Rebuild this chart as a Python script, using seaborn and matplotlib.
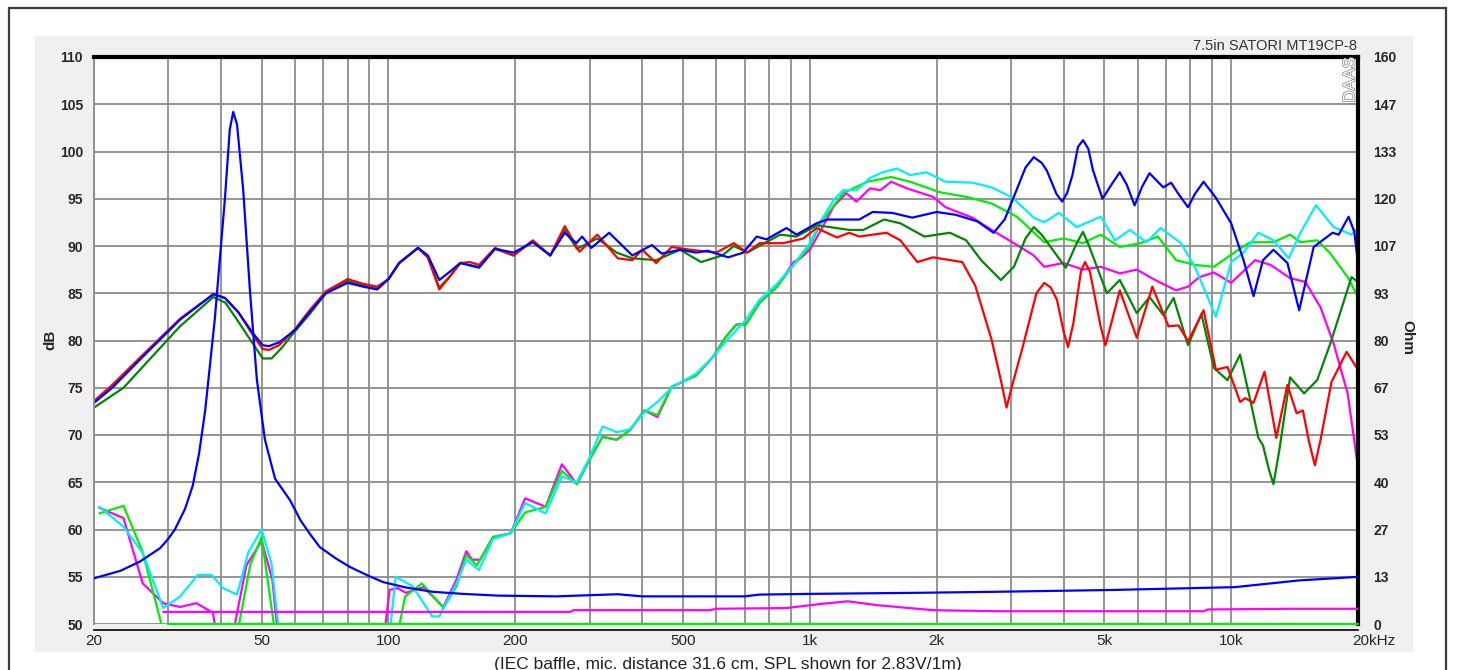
import numpy as np
import matplotlib
matplotlib.use("Agg")
import matplotlib.pyplot as plt
import matplotlib.patheffects as pe
import matplotlib.transforms as mtransforms
from matplotlib.patches import Rectangle
from matplotlib.ticker import LogLocator, NullFormatter
import seaborn as sns

sns.set_theme(style="white")
plt.rcParams["font.family"] = ["Liberation Sans", "DejaVu Sans"]

# ---- SPL curves (dB) ----
f_blue = [20, 22.1, 26, 32, 38.4, 40.9, 44, 47.6, 50.3, 52, 55, 60, 65, 71, 80, 87, 94, 100, 106,
          117.5, 124, 132, 140, 148, 164, 179, 198, 220, 242, 262, 279, 288, 303, 334, 379, 422,
          445, 492, 538, 572, 640, 695, 748, 789, 880, 930, 1037, 1100, 1200, 1310, 1410, 1570,
          1750, 2000, 2220, 2500, 2730, 2900, 3100, 3250, 3400, 3550, 3650, 3850, 3970, 4080, 4200,
          4330, 4450, 4580, 4700, 4950, 5200, 5440, 5650, 5900, 6150, 6400, 6900, 7200, 7500, 7900,
          8200, 8600, 9200, 10000, 10700, 11300, 11900, 12600, 13600, 14500, 15700, 17400, 18000,
          19000, 19600, 20000]
db_blue = [73.4, 75.0, 78.2, 82.2, 84.9, 84.5, 83.0, 80.8, 79.5, 79.4, 79.8, 81.1, 83.0, 85.0, 86.1,
           85.7, 85.4, 86.5, 88.2, 89.8, 89.0, 86.4, 87.3, 88.2, 87.7, 89.7, 89.3, 90.4, 89.0, 91.4,
           90.3, 91.0, 89.8, 91.4, 89.0, 90.1, 89.2, 89.6, 89.3, 89.5, 88.8, 89.3, 91.0, 90.7, 91.9,
           91.2, 92.4, 92.8, 92.8, 92.8, 93.6, 93.5, 93.0, 93.6, 93.3, 92.6, 91.4, 92.8, 96.0, 98.3,
           99.4, 98.8, 98.0, 95.5, 94.7, 95.6, 97.5, 100.5, 101.2, 100.3, 98.0, 95.0, 96.5, 97.8,
           96.5, 94.3, 96.3, 97.7, 96.2, 96.7, 95.5, 94.1, 95.5, 96.8, 95.1, 92.4, 88.5, 84.7, 88.5,
           89.6, 88.2, 83.2, 89.9, 91.4, 91.2, 93.1, 91.5, 88.2]

f_red = [20, 22.1, 26, 32, 38.4, 40.9, 44, 47.6, 50.3, 52, 55, 60, 65, 71, 80, 87, 94, 100, 106,
         117.5, 124, 132, 140, 148, 156, 164, 179, 198, 220, 242, 262, 284, 313, 350, 379, 400, 432,
         470, 520, 600, 660, 710, 760, 865, 965, 1037, 1160, 1240, 1310, 1520, 1640, 1800, 1960,
         2300, 2470, 2700, 2850, 2930, 3020, 3200, 3450, 3600, 3730, 3860, 4000, 4100, 4220, 4400,
         4500, 4620, 4900, 5030, 5150, 5440, 5970, 6500, 7100, 7500, 7900, 8600, 9200, 9800, 10500,
         10800, 11300, 12000, 12800, 13600, 14300, 14800, 15300, 15800, 16300, 17300, 18800, 20000]
db_red = [73.6, 75.3, 78.4, 82.3, 84.9, 84.5, 83.0, 80.6, 79.1, 79.0, 79.5, 81.2, 83.2, 85.2, 86.5,
          86.0, 85.7, 86.5, 88.2, 89.8, 88.8, 85.4, 86.8, 88.2, 88.3, 88.0, 89.8, 89.0, 90.6, 89.0,
          92.1, 89.4, 91.2, 88.7, 88.5, 89.6, 88.2, 89.9, 89.6, 89.3, 90.3, 89.3, 90.3, 90.3, 90.8,
          91.9, 90.9, 91.4, 91.0, 91.4, 90.6, 88.3, 88.8, 88.3, 85.8, 80.1, 75.5, 72.9, 75.2, 79.3,
          85.0, 86.1, 85.6, 84.3, 81.0, 79.3, 81.8, 87.3, 88.3, 87.3, 81.5, 79.5, 81.2, 85.3, 80.3,
          85.7, 81.5, 81.6, 79.9, 83.2, 76.9, 77.2, 73.5, 73.9, 73.4, 76.7, 69.7, 75.3, 72.3, 72.6,
          69.3, 66.8, 69.5, 75.6, 78.8, 76.9]

f_green = [20, 23.5, 32, 38.4, 41, 44, 47.6, 50.3, 52.8, 56, 59, 65, 71, 80, 87, 94, 100, 106, 117.5,
           124, 132, 140, 148, 164, 179, 198, 220, 242, 262, 280, 313, 348, 379, 432, 492, 552, 620,
           660, 710, 850, 930, 1040, 1240, 1340, 1500, 1640, 1870, 2150, 2350, 2550, 2840, 3050,
           3250, 3400, 3550, 4050, 4300, 4450, 4600, 5070, 5440, 5970, 6400, 6900, 7300, 7900, 8500,
           9100, 9800, 10500, 11100, 11600, 11900, 12300, 12600, 13000, 13800, 14900, 16000, 17200,
           19300, 20000]
db_green = [72.9, 75.0, 81.5, 84.6, 84.0, 82.0, 79.7, 78.1, 78.1, 79.3, 80.6, 82.8, 85.0, 86.3, 85.8,
            85.5, 86.5, 88.2, 89.8, 88.8, 85.6, 86.8, 88.2, 87.8, 89.7, 89.0, 90.5, 89.0, 91.7, 89.7,
            90.8, 89.3, 88.7, 88.5, 89.6, 88.3, 89.0, 90.0, 89.3, 91.2, 91.0, 92.2, 91.7, 91.7, 92.8,
            92.4, 91.0, 91.4, 90.6, 88.5, 86.4, 87.8, 90.8, 92.0, 91.2, 87.7, 90.3, 91.5, 90.0, 85.0,
            86.4, 82.9, 84.6, 82.7, 84.5, 79.5, 82.8, 77.1, 75.8, 78.5, 73.7, 69.7, 68.9, 66.3, 64.8,
            68.3, 76.1, 74.4, 75.8, 79.7, 86.7, 86.2]

# ---- distortion-like curves (dB) ----
f_dm = [20.6, 23.5, 26.1, 29.2, 32, 35, 38.3, 40, 41.5, 46, 50, 53, 55.5, 96, 100.6, 105, 110, 121,
        135, 145, 153, 158, 165, 177, 195, 211, 236, 258, 280, 300, 322, 348, 374, 405, 435, 470,
        537, 590, 632, 670, 705, 760, 836, 915, 950, 1000, 1060, 1140, 1220, 1290, 1390, 1470,
        1560, 1700, 1960, 2100, 2430, 2700, 3050, 3400, 3600, 4000, 4450, 4900, 5440, 5970, 6600,
        7400, 7900, 8400, 9100, 10000, 11400, 12400, 13800, 15000, 16300, 17500, 18900, 20000]
db_dm = [62.3, 61.2, 54.3, 52.2, 51.8, 52.2, 51.2, 46, 46, 56.2, 58.8, 54.7, 46, 46, 53.6, 53.8, 53.3,
         53.9, 51.8, 54.7, 57.7, 56.8, 56.8, 59.2, 59.6, 63.3, 62.4, 66.9, 64.8, 67.4, 69.8, 69.5,
         70.5, 72.6, 71.9, 75.1, 76.3, 78.3, 80.4, 81.7, 81.7, 84.0, 85.7, 88.3, 88.7, 89.6, 91.6,
         94.2, 95.6, 94.7, 96.1, 95.9, 96.8, 96.1, 95.2, 94.1, 93.0, 91.7, 90.3, 89.0, 87.8, 88.2,
         87.5, 87.8, 87.1, 87.5, 86.4, 85.3, 85.7, 86.7, 87.2, 86.1, 88.5, 88.0, 86.6, 86.2, 83.5,
         79.7, 74.4, 66.6]

f_dc = [20.6, 23.5, 26.1, 29.2, 32, 35.3, 38, 40.5, 43.7, 46.5, 50, 52.7, 56, 99, 104, 114, 127, 132,
        145, 153, 164, 177, 195, 211, 236, 258, 280, 300, 322, 348, 374, 405, 435, 470, 537, 590,
        632, 705, 760, 836, 915, 950, 1000, 1060, 1140, 1200, 1290, 1390, 1490, 1610, 1730, 1890,
        2100, 2430, 2700, 3030, 3400, 3600, 3900, 4300, 4900, 5300, 5750, 6300, 6800, 7600, 8200,
        9200, 10000, 10700, 11600, 12600, 13700, 14600, 15900, 17500, 19300, 20000]
db_dc = [62.4, 60.3, 57.5, 51.7, 52.9, 55.2, 55.2, 53.8, 53.1, 57.6, 60.0, 56.5, 46, 46, 55.0, 54.0,
         50.8, 50.8, 54.3, 56.8, 55.7, 59.0, 59.6, 62.8, 61.7, 65.6, 65.0, 67.6, 70.9, 70.3, 70.6,
         72.4, 73.5, 75.0, 76.5, 78.3, 79.9, 82.2, 84.3, 86.0, 88.0, 89.0, 90.3, 92.6, 94.9, 95.9,
         95.9, 97.2, 97.8, 98.2, 97.5, 97.8, 96.8, 96.7, 96.2, 95.1, 93.0, 92.5, 93.5, 92.0, 93.1,
         90.6, 91.7, 90.4, 91.9, 90.3, 87.8, 82.5, 88.3, 89.3, 91.4, 90.6, 88.7, 91.4, 94.3, 92.0,
         91.2, 91.9]

f_dl = [20.6, 23.5, 26.1, 30.5, 42.5, 47, 50, 55, 102, 109.5, 120, 135, 145, 153, 162, 177, 195, 211,
        236, 258, 280, 300, 322, 348, 374, 405, 435, 470, 537, 590, 632, 670, 705, 760, 836, 915,
        950, 1000, 1060, 1200, 1370, 1560, 1730, 2030, 2350, 2700, 3100, 3600, 4000, 4450, 4900,
        5440, 6100, 6700, 7400, 8200, 9100, 10400, 11100, 12600, 13800, 14600, 16000, 17200,
        18900, 20000]
db_dl = [61.7, 62.5, 57.6, 46, 46, 56.3, 59.2, 46, 46, 52.9, 54.3, 51.7, 54.0, 57.3, 56.2, 59.2, 59.6,
         61.8, 62.4, 66.2, 64.8, 67.4, 69.8, 69.5, 70.5, 72.6, 72.1, 75.1, 76.3, 78.3, 80.4, 81.7,
         81.7, 84.0, 85.7, 88.0, 88.8, 90.0, 92.4, 95.6, 96.8, 97.3, 96.8, 95.7, 95.2, 94.5, 93.1,
         90.4, 90.8, 90.3, 91.2, 89.9, 90.3, 91.0, 88.5, 88.0, 87.8, 89.6, 90.4, 90.4, 91.2, 90.4,
         90.6, 89.2, 86.7, 84.6]

# ---- impedance-axis curves (Ohm) ----
f_imp = [20, 23.1, 25.7, 28.7, 29.9, 31.1, 32.9, 34.3, 35.5, 36.7, 38.7, 40.9, 42.0, 42.8, 43.7,
         45.2, 46.9, 48.7, 50.9, 53.8, 58.4, 61.8, 65, 68.7, 75, 81, 90, 97.3, 110, 127, 150, 183,
         250, 350, 400, 700, 760, 1000, 1800, 2800, 5200, 10200, 14500, 20000]
ohm_imp = [12.9, 15.0, 17.6, 21.4, 23.8, 26.6, 32.5, 39.0, 48.0, 60.0, 86.0, 120.0, 139.5, 144.5,
           141.0, 122.5, 94.0, 69.0, 52.0, 41.0, 34.9, 29.3, 25.5, 21.7, 18.5, 16.1, 13.5, 11.8,
           10.3, 9.1, 8.5, 8.0, 7.8, 8.4, 7.8, 7.8, 8.3, 8.5, 8.8, 9.1, 9.6, 10.4, 12.3, 13.3]

f_mag_low = [29.2, 270, 275, 580, 600, 880, 1050, 1230, 1450, 1960, 2800, 8600, 8800, 14000, 20000]
ohm_mag_low = [3.4, 3.4, 3.9, 3.9, 4.3, 4.5, 5.6, 6.4, 5.3, 3.9, 3.6, 3.6, 4.1, 4.3, 4.3]

f_lime_low = [30, 20000]
ohm_lime_low = [0, 0]

x_ticks = [20, 50, 100, 200, 500, 1000, 2000, 5000, 10000, 20000]
x_labels = ["20", "50", "100", "200", "500", "1k", "2k", "5k", "10k", "20kHz"]
db_ticks = list(range(50, 111, 5))
ohm_labels = ["0", "13", "27", "40", "53", "67", "80", "93", "107", "120", "133", "147", "160"]

W, H = 1457, 670
fig = plt.figure(figsize=(W / 100, H / 100), dpi=100)
fig.patch.set_facecolor("white")
fig.patches.append(Rectangle((35 / W, 1 - 652 / H), (1413 - 35) / W, (652 - 36) / H,
                             transform=fig.transFigure, facecolor="#f0f0f0",
                             edgecolor="none", zorder=-2))
fig.patches.append(Rectangle((9 / W, -0.05), (1446 - 9) / W, 1.05 - 8 / H,
                             transform=fig.transFigure, fill=False,
                             edgecolor="#3c3c3c", lw=1.6, zorder=-1))

ax = fig.add_axes([94 / W, 1 - 624 / H, 1264 / W, 567 / H])
ax.set_facecolor("white")

lw = 1.6
sns.lineplot(x=f_dm, y=db_dm, ax=ax, color="#ff00ff", lw=lw, estimator=None)
sns.lineplot(x=f_dl, y=db_dl, ax=ax, color="#00ee00", lw=lw, estimator=None)
sns.lineplot(x=f_dc, y=db_dc, ax=ax, color="#00eeff", lw=lw, estimator=None)
sns.lineplot(x=f_green, y=db_green, ax=ax, color="#008800", lw=lw, estimator=None)
sns.lineplot(x=f_red, y=db_red, ax=ax, color="#ff0000", lw=lw, estimator=None)
sns.lineplot(x=f_blue, y=db_blue, ax=ax, color="#0000ff", lw=lw, estimator=None)

ax.set_xscale("log")
ax.set_xlim(20, 20000)
ax.set_ylim(50, 110)
ax.set_xticks(x_ticks)
ax.set_xticklabels(x_labels, fontsize=10, fontweight="bold")
ax.xaxis.set_minor_locator(LogLocator(base=10, subs=np.arange(2, 10)))
ax.xaxis.set_minor_formatter(NullFormatter())
ax.set_yticks(db_ticks)
ax.set_yticklabels([str(v) for v in db_ticks], fontsize=10, fontweight="bold")
ax.grid(True, which="both", axis="both", color="#8c8c8c", lw=1.3)
ax.tick_params(which="both", length=0)
ax.tick_params(axis="x", pad=3)
ax.tick_params(axis="y", pad=8)
ax.set_xlabel("")
ax.set_ylabel("")

for side in ["top", "right"]:
    ax.spines[side].set_color("black")
    ax.spines[side].set_linewidth(3)
ax.spines["left"].set_color("#8c8c8c")
ax.spines["left"].set_linewidth(1.3)
ax.spines["bottom"].set_color("black")
ax.spines["bottom"].set_linewidth(1.2)
ax.spines["bottom"].set_position(("outward", 4.5))

last = ax.xaxis.get_major_ticks()[-1].label1
last.set_horizontalalignment("left")
last.set_transform(last.get_transform() + mtransforms.ScaledTranslation(-0.06, 0, fig.dpi_scale_trans))

ax2 = ax.twinx()
sns.lineplot(x=f_lime_low, y=ohm_lime_low, ax=ax2, color="#00ee00", lw=lw, estimator=None, clip_on=False)
sns.lineplot(x=f_mag_low, y=ohm_mag_low, ax=ax2, color="#ff00ff", lw=lw, estimator=None)
sns.lineplot(x=f_imp, y=ohm_imp, ax=ax2, color="#0000ff", lw=lw, estimator=None)
ax2.set_ylim(0, 160)
ax2.set_yticks(np.linspace(0, 160, 13))
ax2.set_yticklabels(ohm_labels, fontsize=10, fontweight="bold")
ax2.tick_params(length=0, pad=11)
ax2.set_ylabel("")
ax2.grid(False)
for s in ax2.spines.values():
    s.set_visible(False)

fig.text(50 / W, 1 - 340 / H, "dB", rotation=90, ha="center", va="center",
         fontsize=11, fontweight="bold")
fig.text(1407 / W, 1 - 338 / H, "Ohm", rotation=270, ha="center", va="center",
         fontsize=11, fontweight="bold")
fig.text(1357 / W, 1 - 46 / H, "7.5in SATORI MT19CP-8", ha="right", va="center",
         fontsize=10.5, color="#333333")
fig.text(1350 / W, 1 - 80 / H, "DAAS", rotation=90, ha="center", va="center",
         fontsize=12, color="white",
         path_effects=[pe.withStroke(linewidth=1.1, foreground="#8a8a8a")])
fig.text(728 / W, 1 - 664 / H, "(IEC baffle, mic. distance 31.6 cm, SPL shown for 2.83V/1m)",
         ha="center", va="center", fontsize=12.5, color="#222222")

fig.savefig("out.png", dpi=100)
